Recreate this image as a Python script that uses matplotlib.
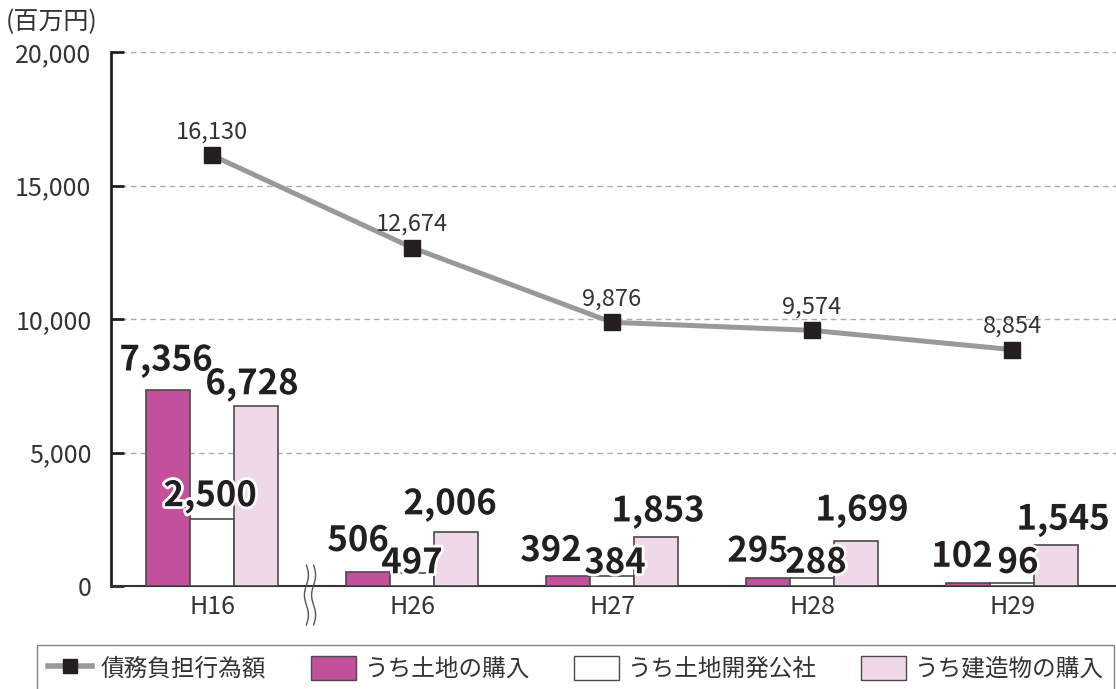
import numpy as np
import matplotlib
matplotlib.use("Agg")
import matplotlib.pyplot as plt
import matplotlib.patheffects as pe
from matplotlib.lines import Line2D
from matplotlib.patches import Patch
import matplotlib.transforms as mtrans

plt.rcParams['font.family'] = ['Noto Sans CJK JP', 'DejaVu Sans']

# data
years = ['H16', 'H26', 'H27', 'H28', 'H29']
debt_total = [16130, 12674, 9876, 9574, 8854]
land = [7356, 506, 392, 295, 102]
land_corp = [2500, 497, 384, 288, 96]
building = [6728, 2006, 1853, 1699, 1545]

x = np.arange(len(years))
w = 0.22

fig = plt.figure(figsize=(11.16, 6.89), dpi=100)
ax = fig.add_axes([111/1116, 103/689, 1 - 111/1116, (586-52)/689])

c_land = '#C2509B'
c_corp = '#FFFFFF'
c_bld = '#EFD8EA'
edge = '#4A4A4A'

ax.bar(x - w, land, w, color=c_land, edgecolor=edge, linewidth=1.2, zorder=3)
ax.bar(x, land_corp, w, color=c_corp, edgecolor=edge, linewidth=1.2, zorder=3)
ax.bar(x + w, building, w, color=c_bld, edgecolor=edge, linewidth=1.2, zorder=3)

ax.plot(x, debt_total, color='#999999', lw=3.6, marker='s', markersize=12,
        markerfacecolor='#231F20', markeredgecolor='#231F20', zorder=5)

for xi, v in zip(x, debt_total):
    ax.annotate(f'{v:,}', (xi, v), xytext=(0, 23 * 0.72), textcoords='offset points',
                ha='center', va='center', fontsize=17, color='#333333', zorder=6)

stroke = [pe.withStroke(linewidth=4, foreground='white')]
bar_fs = 25
# label offsets (pixels, from bar top to label centre)
land_off = [(-2, 29), (-10, 32), (-17, 25), (-10, 27), (-6, 27)]
corp_off = [(-2, 23), (0, 10), (3, 13), (4, 16), (6, 21)]
bld_off = [(-4, 22), (-6, 28), (2, 25), (6, 30), (7, 25)]
series = [(land, -w, land_off), (land_corp, 0, corp_off), (building, w, bld_off)]
for vals, shift, offs in series:
    for i in range(len(years)):
        dx, dy = offs[i]
        ax.annotate(f'{vals[i]:,}', (x[i] + shift, vals[i]),
                    xytext=(dx * 0.72, dy * 0.72), textcoords='offset points',
                    ha='center', va='center', fontsize=bar_fs, fontweight='bold',
                    color='#231F20', path_effects=stroke, zorder=7)

ax.set_xlim(-0.505, 4.52)
ax.set_ylim(0, 20000)
yt = [0, 5000, 10000, 15000, 20000]
ax.set_yticks(yt)
ax.set_yticklabels([f'{v:,}' for v in yt])
ax.set_xticks(x)
ax.set_xticklabels(years)
ax.tick_params(axis='y', direction='in', length=9, width=2, labelsize=18, pad=14,
               colors='#231F20', labelcolor='#333333')
ax.tick_params(axis='x', length=0, labelsize=18, pad=6, labelcolor='#333333')
ax.grid(axis='y', linestyle=(0, (4, 3)), color='#AAAAAA', lw=1, zorder=0)
for s in ['top', 'right']:
    ax.spines[s].set_visible(False)
ax.spines['left'].set_linewidth(2)
ax.spines['left'].set_color('#231F20')
ax.spines['bottom'].set_linewidth(1.5)
ax.spines['bottom'].set_color('#333333')

# axis break mark between H16 and H26
trans = mtrans.blended_transform_factory(ax.transData, ax.transAxes)
yy = np.linspace(-0.073, 0.039, 60)
wave = 0.01 * np.sin((yy + 0.073) / 0.112 * 2 * np.pi * 1.5)
for dx in (-0.018, 0.018):
    ax.plot(0.49 + dx + wave, yy, color='#555555', lw=1, transform=trans,
            clip_on=False, zorder=8)

fig.text(6/1116, 1 - 22/689, '(百万円)', fontsize=18, ha='left', va='center', color='#333333')

handles = [
    Line2D([0], [0], color='#999999', lw=4, marker='s', markersize=10,
           markerfacecolor='#231F20', markeredgecolor='#231F20'),
    Patch(facecolor=c_land, edgecolor=edge),
    Patch(facecolor=c_corp, edgecolor=edge),
    Patch(facecolor=c_bld, edgecolor=edge),
]
labels = ['債務負担行為額', 'うち土地の購入', 'うち土地開発公社', 'うち建造物の購入']
leg = fig.legend(handles, labels, loc='upper left', bbox_to_anchor=(37/1116, 1 - 645/689),
                 ncol=4, fontsize=17, frameon=True, fancybox=False,
                 handlelength=1.9, handleheight=1.2, columnspacing=1.9,
                 borderpad=0.45, handletextpad=0.35, borderaxespad=0)
leg.get_frame().set_edgecolor('#666666')
leg.get_frame().set_linewidth(1)
for t in leg.get_texts():
    t.set_color('#333333')

fig.savefig('out.png', dpi=100)
